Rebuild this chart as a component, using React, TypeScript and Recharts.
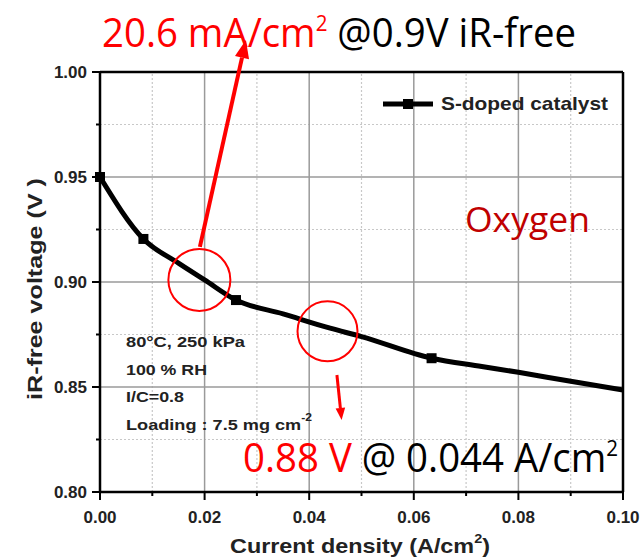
import React from 'react';
import {
  LineChart, Line, XAxis, YAxis, ReferenceLine, ReferenceDot, Legend,
} from 'recharts';

// current density (A/cm2) and iR-free voltage (V)
const density = [0, 0.0083, 0.015, 0.02, 0.026, 0.035, 0.044, 0.05, 0.0634, 0.073, 0.08, 0.09, 0.1];
const voltage = [0.95, 0.9205, 0.909, 0.901, 0.8914, 0.8848, 0.878, 0.874, 0.8637, 0.8598, 0.857, 0.8527, 0.8486];
const markedPoints = [0, 1, 4, 8];

const xTicks = [0, 0.01, 0.02, 0.03, 0.04, 0.05, 0.06, 0.07, 0.08, 0.09, 0.1];
const yTicks = [0.8, 0.825, 0.85, 0.875, 0.9, 0.925, 0.95, 0.975, 1.0];
const xMajor = [0.02, 0.04, 0.06, 0.08];
const xMinor = [0.01, 0.03, 0.05, 0.07, 0.09];
const yMajor = [0.85, 0.9, 0.95];
const yMinor = [0.825, 0.875, 0.925, 0.975];

const seriesName = 'S-doped catalyst';

const data = density.map((x, i) => ({ x, v: voltage[i] }));

const TICK_FONT = { fontFamily: 'Liberation Sans, Arial, sans-serif', fontWeight: 700, fontSize: 17, fill: '#222' };
const CAL = 'Open Sans, Noto Sans, sans-serif';

const isMajorX = (v: number) => Math.round(v * 100) % 2 === 0;
const isMajorY = (v: number) => Math.round(v * 1000) % 50 === 0;

const XTick = (props: any) => {
  const { x, payload } = props;
  const cx = payload.coordinate ?? x;
  const major = isMajorX(payload.value);
  return (
    <g>
      <line x1={cx} x2={cx} y1={492} y2={major ? 500 : 496} stroke="#000" strokeWidth={2} />
      {major && (
        <text x={cx} y={523} textAnchor="middle" {...TICK_FONT}>
          {payload.value.toFixed(2)}
        </text>
      )}
    </g>
  );
};

const YTick = (props: any) => {
  const { y, payload } = props;
  const cy = payload.coordinate ?? y;
  const major = isMajorY(payload.value);
  return (
    <g>
      <line x1={100} x2={major ? 92 : 96} y1={cy} y2={cy} stroke="#000" strokeWidth={2} />
      {major && (
        <text x={87} y={cy + 6} textAnchor="end" {...TICK_FONT}>
          {payload.value.toFixed(2)}
        </text>
      )}
    </g>
  );
};

const SquareDot = (props: any) => {
  const { cx, cy, index } = props;
  if (!markedPoints.includes(index)) return <g key={`d${index}`} />;
  return <rect key={`d${index}`} x={cx - 5} y={cy - 5} width={10} height={10} fill="#000" />;
};

const Arrow = (props: any) => {
  const { x1, y1, x2, y2, width = 4, head = 16 } = props;
  const ang = Math.atan2(y2 - y1, x2 - x1);
  const bx = x2 - head * Math.cos(ang);
  const by = y2 - head * Math.sin(ang);
  const px = Math.sin(ang) * head * 0.4;
  const py = -Math.cos(ang) * head * 0.4;
  return (
    <g>
      <line x1={x1} y1={y1} x2={bx} y2={by} stroke="#ff0000" strokeWidth={width} />
      <polygon points={`${x2},${y2} ${bx + px},${by + py} ${bx - px},${by - py}`} fill="#ff0000" />
    </g>
  );
};

const LegendBox = () => (
  <svg width={240} height={24} style={{ display: 'block' }}>
    <line x1={3} x2={53} y1={12} y2={12} stroke="#000" strokeWidth={5} />
    <rect x={23} y={7} width={10} height={10} fill="#000" />
    <text x={61} y={18} textLength={167} lengthAdjust="spacingAndGlyphs"
      fontFamily="Liberation Sans, Arial, sans-serif" fontWeight={700} fontSize={19} fill="#222">
      {seriesName}
    </text>
  </svg>
);

export default function App() {
  return (
    <div style={{ position: 'absolute', left: 0, top: 0, width: 641, height: 559, background: '#fff' }}>
      {/* the legend box (24px tall) is added to the top offset, so top margin is 72 - 24 */}
      <LineChart width={641} height={559} data={data} margin={{ top: 48, right: 18, left: 0, bottom: 0 }}>
        <XAxis
          dataKey="x" type="number" domain={[0, 0.1]} ticks={xTicks} interval={0}
          height={67} axisLine={{ stroke: '#000', strokeWidth: 2.5 }} tickLine={false} tick={<XTick />}
        />
        <YAxis
          type="number" domain={[0.8, 1.0]} ticks={yTicks} interval={0}
          width={100} axisLine={{ stroke: '#000', strokeWidth: 2.5 }} tickLine={false} tick={<YTick />}
        />
        {xMinor.map((v) => (
          <ReferenceLine key={`xm${v}`} x={v} stroke="#c8c8c8" strokeWidth={1.2} strokeDasharray="2 2" />
        ))}
        {yMinor.map((v) => (
          <ReferenceLine key={`ym${v}`} y={v} stroke="#c8c8c8" strokeWidth={1.2} strokeDasharray="2 2" />
        ))}
        {xMajor.map((v) => (
          <ReferenceLine key={`xM${v}`} x={v} stroke="#9a9a9a" strokeWidth={1.5} />
        ))}
        {yMajor.map((v) => (
          <ReferenceLine key={`yM${v}`} y={v} stroke="#9a9a9a" strokeWidth={1.5} />
        ))}
        <ReferenceLine y={1.0} stroke="#000" strokeWidth={2.5} />
        <ReferenceLine x={0.1} stroke="#000" strokeWidth={2.5} />
        <Legend
          layout="vertical" verticalAlign="top" align="center" content={<LegendBox />}
          wrapperStyle={{ position: 'absolute', top: 92, left: 380, width: 240 }}
        />
        <Line
          dataKey="v" name={seriesName} type="monotone" stroke="#000" strokeWidth={5}
          dot={<SquareDot />} activeDot={false} isAnimationActive={false}
        />
        <ReferenceDot x={0.019} y={0.901} r={31} fill="none" stroke="#ff0000" strokeWidth={2} />
        <ReferenceDot x={0.0435} y={0.8765} r={30} fill="none" stroke="#ff0000" strokeWidth={2} />
        <ReferenceLine
          segment={[{ x: 0.0191, y: 0.9167 }, { x: 0.0279, y: 1.0152 }]} ifOverflow="visible"
          shape={(p: any) => <Arrow {...p} width={4} head={18} />}
        />
        <ReferenceLine
          segment={[{ x: 0.0453, y: 0.8557 }, { x: 0.0462, y: 0.8343 }]} ifOverflow="visible"
          shape={(p: any) => <Arrow {...p} width={3} head={12} />}
        />
      </LineChart>

      <svg width={641} height={559} style={{ position: 'absolute', left: 0, top: 0, pointerEvents: 'none' }}>
        {/* top annotation */}
        <text x={102} y={47} textLength={474} lengthAdjust="spacingAndGlyphs" fontFamily={CAL} fontSize={41}>
          <tspan fill="#ff0000">20.6 mA/cm</tspan>
          <tspan fill="#ff0000" fontSize={22} dy={-16}>2</tspan>
          <tspan fill="#000" dy={16}> @0.9V iR-free</tspan>
        </text>

        {/* bottom annotation */}
        <text x={243} y={472} textLength={375} lengthAdjust="spacingAndGlyphs" fontFamily={CAL} fontSize={41}>
          <tspan fill="#ff0000">0.88 V</tspan>
          <tspan fill="#000"> @ 0.044 A/cm</tspan>
          <tspan fill="#000" fontSize={22} dy={-16}>2</tspan>
        </text>

        <text x={465} y={232} textLength={125} lengthAdjust="spacingAndGlyphs" fontFamily={CAL} fontSize={35} fill="#c00000">Oxygen</text>

        {/* conditions */}
        <g fontFamily="Liberation Sans, Arial, sans-serif" fontWeight={700} fontSize={15} fill="#222">
          <text x={126} y={347} textLength={119} lengthAdjust="spacingAndGlyphs">80°C, 250 kPa</text>
          <text x={126} y={375} textLength={81} lengthAdjust="spacingAndGlyphs">100 % RH</text>
          <text x={126} y={402} textLength={58} lengthAdjust="spacingAndGlyphs">I/C=0.8</text>
          <text x={126} y={430} textLength={186} lengthAdjust="spacingAndGlyphs">
            Loading : 7.5 mg cm<tspan fontSize={10} dy={-9}>-2</tspan>
          </text>
        </g>

        {/* axis titles */}
        <g fontFamily="Liberation Sans, Arial, sans-serif" fontWeight={700} fill="#222">
          <text x={230} y={553} textLength={260} lengthAdjust="spacingAndGlyphs" fontSize={21}>
            Current density (A/cm<tspan fontSize={13} dy={-10}>2</tspan><tspan dy={10}>)</tspan>
          </text>
          <text transform="translate(42,400) rotate(-90)" x={0} y={0} textLength={222} lengthAdjust="spacingAndGlyphs" fontSize={21}>iR-free voltage (V )</text>
        </g>
      </svg>
    </div>
  );
}
